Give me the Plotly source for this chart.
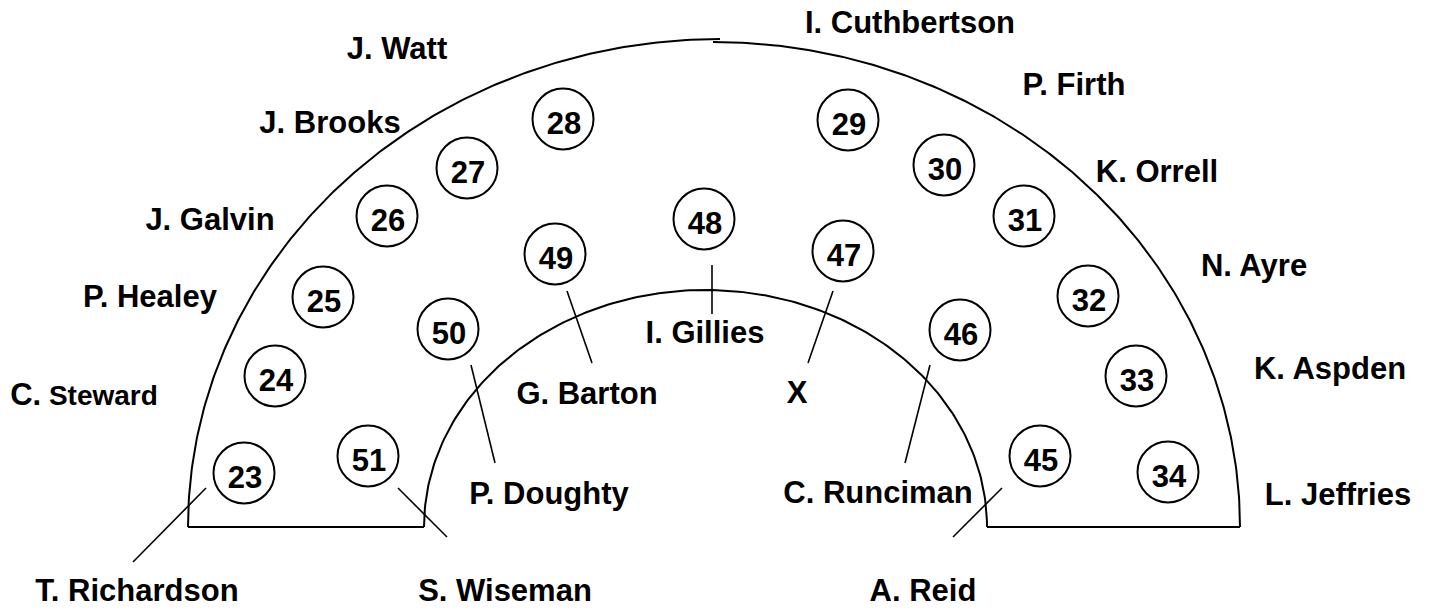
import numpy as np
import plotly.graph_objects as go

# ---- data (pixel-space coordinates of the seating plan) ----
seat_numbers = [23, 24, 25, 26, 27, 28, 29, 30, 31, 32, 33, 34, 45, 46, 47, 48, 49, 50, 51]
seat_x = [244, 275, 323, 387, 467, 563, 848, 944, 1024, 1088, 1136, 1168, 1040, 960, 843, 704, 555, 448, 368]
seat_y = [473, 376, 297, 216, 168, 119, 120, 165, 216, 296, 376, 472, 456, 330, 251, 219, 254, 329, 456]

names = ["I. Cuthbertson", "J. Watt", "P. Firth", "J. Brooks", "K. Orrell", "J. Galvin",
         "N. Ayre", "P. Healey", "I. Gillies", "K. Aspden",
         "C.<span style='font-size:28px'> Steward</span>", "G. Barton", "X",
         "P. Doughty", "C. Runciman", "L. Jeffries", "T. Richardson", "S. Wiseman", "A. Reid"]
name_x = [910, 397, 1074, 330, 1157, 210, 1254, 150, 705, 1330, 84, 587, 797, 549, 878, 1338, 137, 505, 923]
name_y = [22, 48, 84, 122, 171, 219, 265, 296, 332, 368, 394, 393, 392, 493, 492, 494, 590, 590, 590]

# leader lines: start (near seat) -> end (near name)
leader_x0 = [206, 398, 471, 567, 712, 833, 930, 1002]
leader_y0 = [488, 488, 365, 291, 265, 291, 365, 488]
leader_x1 = [133, 447, 495, 592, 712, 808, 905, 953]
leader_y1 = [562, 537, 463, 363, 314, 363, 463, 537]

# baseline segments
base_x = [[188, 424], [987, 1240]]
base_y = [[527, 527], [527, 527]]

# elliptical arcs: (cx, cy, rx, ry, start_deg, end_deg)
arcs = [
    (720, 527, 532, 488, 180, 90),   # outer, left quarter
    (713, 527, 527, 485, 90, 0),     # outer, right quarter
    (705.5, 527, 281.5, 237, 180, 0) # inner half
]

FONT = "Liberation Sans, Arial, sans-serif"
FS = 31
TEXT_DY = 0.108 * FS

fig = go.Figure()

# arcs
for cx, cy, rx, ry, a0, a1 in arcs:
    t = np.radians(np.linspace(a0, a1, 200))
    fig.add_trace(go.Scatter(x=cx + rx * np.cos(t), y=cy - ry * np.sin(t), mode="lines",
                             line=dict(color="black", width=2), hoverinfo="skip"))

# baselines
for bx, by in zip(base_x, base_y):
    fig.add_trace(go.Scatter(x=bx, y=by, mode="lines", line=dict(color="black", width=2.2),
                             hoverinfo="skip"))

# leader lines
lx, ly = [], []
for x0, y0, x1, y1 in zip(leader_x0, leader_y0, leader_x1, leader_y1):
    lx += [x0, x1, None]
    ly += [y0, y1, None]
fig.add_trace(go.Scatter(x=lx, y=ly, mode="lines", line=dict(color="black", width=1.6),
                         hoverinfo="skip"))

# seats
fig.add_trace(go.Scatter(x=seat_x, y=seat_y, mode="markers",
                         marker=dict(size=61, color="white", line=dict(color="black", width=2)),
                         hoverinfo="skip"))
fig.add_trace(go.Scatter(x=[x + 1 for x in seat_x], y=[y + 3.5 + TEXT_DY for y in seat_y],
                         mode="text", text=[str(n) for n in seat_numbers],
                         textposition="middle center",
                         textfont=dict(family=FONT, size=FS, color="black", weight="bold"),
                         hoverinfo="skip"))

# names
fig.add_trace(go.Scatter(x=name_x, y=[y + TEXT_DY for y in name_y], mode="text", text=names,
                         textposition="middle center",
                         textfont=dict(family=FONT, size=FS, color="black", weight="bold"),
                         hoverinfo="skip"))

fig.update_layout(
    width=1430, height=611,
    margin=dict(l=0, r=0, t=0, b=0),
    paper_bgcolor="white", plot_bgcolor="white",
    showlegend=False,
    xaxis=dict(range=[0, 1430], visible=False, fixedrange=True),
    yaxis=dict(range=[611, 0], visible=False, fixedrange=True),
)

fig.write_html(
    "out.html",
    config={"displayModeBar": False},
    post_script="document.body.style.margin='0';document.body.style.padding='0';"
                "document.body.style.overflow='hidden';",
)
